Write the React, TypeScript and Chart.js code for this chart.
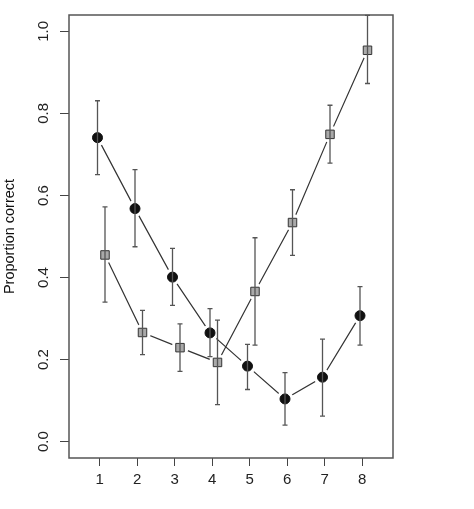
import React, { useEffect, useRef } from "react";
import { Chart, registerables, ChartConfiguration, Plugin } from "chart.js";

Chart.register(...registerables);

// session numbers on the x axis
const sessions = [1, 2, 3, 4, 5, 6, 7, 8];

// filled circles
const circleMeans = [0.741, 0.568, 0.401, 0.265, 0.184, 0.104, 0.157, 0.307];
const circleUpper = [0.831, 0.663, 0.471, 0.324, 0.237, 0.168, 0.25, 0.378];
const circleLower = [0.651, 0.475, 0.332, 0.207, 0.127, 0.04, 0.062, 0.235];

// grey squares
const squareMeans = [0.455, 0.266, 0.229, 0.193, 0.366, 0.534, 0.749, 0.954];
const squareUpper = [0.572, 0.32, 0.287, 0.296, 0.497, 0.614, 0.82, 1.039];
const squareLower = [0.34, 0.212, 0.171, 0.09, 0.235, 0.454, 0.679, 0.873];

const yTicks = [0, 0.2, 0.4, 0.6, 0.8, 1.0];
const yTitle = "Proportion correct";

// small horizontal dodge so the two series don't overlap
const CIRCLE_SHIFT = -0.06;
const SQUARE_SHIFT = 0.14;

const FONT = "'Liberation Sans', Arial, Helvetica, sans-serif";

const pts = (vals: number[], shift: number) =>
  vals.map((v, i) => ({ x: sessions[i] + shift, y: v }));

const errorBars: Plugin = {
  id: "errorBars",
  afterDatasetsDraw(chart) {
    const { ctx, scales } = chart;
    const x = scales.x;
    const y = scales.y;
    const groups = [
      { lo: circleLower, hi: circleUpper, shift: CIRCLE_SHIFT },
      { lo: squareLower, hi: squareUpper, shift: SQUARE_SHIFT },
    ];
    ctx.save();
    ctx.strokeStyle = "#555";
    ctx.lineWidth = 1.3;
    groups.forEach((g) => {
      sessions.forEach((s, i) => {
        const px = x.getPixelForValue(s + g.shift);
        const top = y.getPixelForValue(g.hi[i]);
        const bot = y.getPixelForValue(g.lo[i]);
        ctx.beginPath();
        ctx.moveTo(px, top);
        ctx.lineTo(px, bot);
        ctx.moveTo(px - 2.5, top);
        ctx.lineTo(px + 2.5, top);
        ctx.moveTo(px - 2.5, bot);
        ctx.lineTo(px + 2.5, bot);
        ctx.stroke();
      });
    });
    ctx.restore();
  },
};

const frameAndLabels: Plugin = {
  id: "frameAndLabels",
  afterDraw(chart) {
    const { ctx, chartArea, scales } = chart;
    ctx.save();
    ctx.strokeStyle = "#555";
    ctx.lineWidth = 1.5;
    ctx.strokeRect(
      chartArea.left,
      chartArea.top,
      chartArea.right - chartArea.left,
      chartArea.bottom - chartArea.top
    );
    // rotated y tick labels, like R's default axis
    ctx.fillStyle = "#222";
    ctx.font = `15px ${FONT}`;
    ctx.textAlign = "center";
    ctx.textBaseline = "middle";
    yTicks.forEach((t) => {
      const py = scales.y.getPixelForValue(t);
      ctx.save();
      ctx.translate(44, py);
      ctx.rotate(-Math.PI / 2);
      ctx.fillText(t.toFixed(1), 0, 0);
      ctx.restore();
    });
    ctx.restore();
  },
};

const App: React.FC = () => {
  const chartRef = useRef<HTMLCanvasElement>(null);
  const chartInstance = useRef<Chart | null>(null);

  useEffect(() => {
    if (!chartRef.current) return;
    if (chartInstance.current) chartInstance.current.destroy();

    const lineStyle = { borderColor: "#333", borderWidth: 1.2 };

    const config: ChartConfiguration = {
      type: "scatter",
      data: {
        datasets: [
          // markers on top
          {
            data: pts(circleMeans, CIRCLE_SHIFT),
            pointStyle: "circle",
            pointRadius: 5,
            pointBackgroundColor: "#111",
            pointBorderColor: "#111",
            pointBorderWidth: 1,
            showLine: false,
            order: 1,
          },
          {
            data: pts(squareMeans, SQUARE_SHIFT),
            pointStyle: "rect",
            pointRadius: 6,
            pointBackgroundColor: "#a9a9a9",
            pointBorderColor: "#333",
            pointBorderWidth: 1,
            showLine: false,
            order: 1,
          },
          // white halos make the gaps of R's type = "b"
          {
            data: pts(circleMeans, CIRCLE_SHIFT),
            pointStyle: "circle",
            pointRadius: 8.5,
            pointBackgroundColor: "#fff",
            pointBorderWidth: 0,
            showLine: false,
            order: 2,
          },
          {
            data: pts(squareMeans, SQUARE_SHIFT),
            pointStyle: "circle",
            pointRadius: 8.5,
            pointBackgroundColor: "#fff",
            pointBorderWidth: 0,
            showLine: false,
            order: 2,
          },
          // connecting lines
          {
            data: pts(circleMeans, CIRCLE_SHIFT),
            showLine: true,
            pointRadius: 0,
            ...lineStyle,
            order: 3,
          },
          {
            data: pts(squareMeans, SQUARE_SHIFT),
            showLine: true,
            pointRadius: 0,
            ...lineStyle,
            order: 3,
          },
        ],
      },
      options: {
        responsive: false,
        animation: false,
        events: [],
        layout: { padding: { top: 15, right: 81, bottom: 0, left: 0 } },
        plugins: {
          legend: { display: false },
          tooltip: { enabled: false },
        },
        scales: {
          x: {
            type: "linear",
            min: 0.18,
            max: 8.82,
            afterBuildTicks: (scale) => {
              scale.ticks = sessions.map((s) => ({ value: s }));
            },
            afterFit: (scale) => {
              scale.height = 51;
            },
            grid: {
              display: true,
              drawOnChartArea: false,
              drawTicks: true,
              tickLength: 8,
              color: "#444",
              lineWidth: 1,
            },
            border: { display: false },
            ticks: {
              color: "#222",
              font: { family: FONT, size: 15 },
              padding: 5,
              maxRotation: 0,
              autoSkip: false,
              callback: (v) => String(v),
            },
          },
          y: {
            type: "linear",
            min: -0.04,
            max: 1.04,
            afterBuildTicks: (scale) => {
              scale.ticks = yTicks.map((t) => ({ value: t }));
            },
            afterFit: (scale) => {
              scale.width = 69;
            },
            grid: {
              display: true,
              drawOnChartArea: false,
              drawTicks: true,
              tickLength: 9,
              color: "#444",
              lineWidth: 1,
            },
            border: { display: false },
            ticks: { display: false },
            title: {
              display: true,
              text: yTitle,
              color: "#111",
              font: { family: FONT, size: 14.5 },
              padding: { top: 1, bottom: 0 },
            },
          },
        },
      },
      plugins: [errorBars, frameAndLabels],
    };

    chartInstance.current = new Chart(chartRef.current, config);

    return () => {
      if (chartInstance.current) {
        chartInstance.current.destroy();
        chartInstance.current = null;
      }
    };
  }, []);

  return (
    <canvas
      ref={chartRef}
      width={474}
      height={509}
      style={{ position: "absolute", left: 0, top: 0, width: 474, height: 509, background: "#fff" }}
    />
  );
};

export default App;
